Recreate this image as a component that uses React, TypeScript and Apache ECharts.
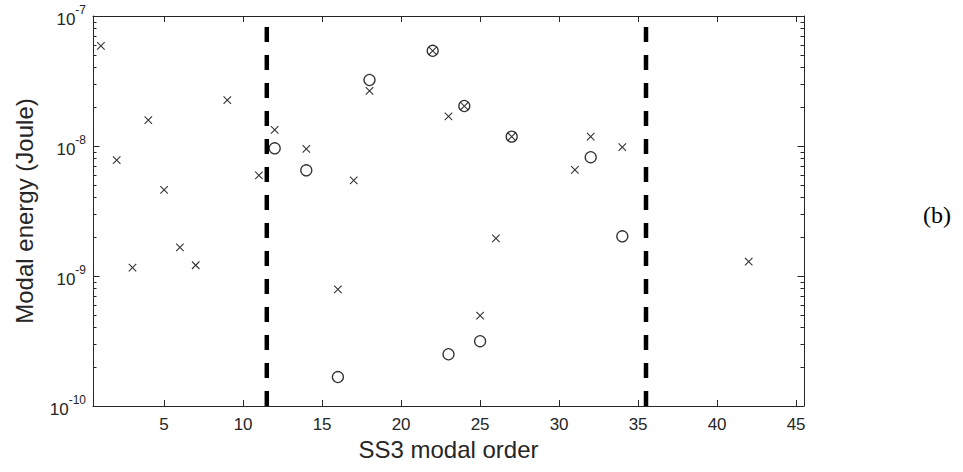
import React, { useEffect, useRef } from "react";
import * as echarts from "echarts";

// Modal order (x) and modal energy in Joule (y)
const crossX = [1, 2, 3, 4, 5, 6, 7, 9, 11, 12, 14, 16, 17, 18, 22, 23, 24, 25, 26, 27, 31, 32, 34, 42];
const crossY = [5.9e-8, 7.8e-9, 1.16e-9, 1.58e-8, 4.6e-9, 1.66e-9, 1.21e-9, 2.25e-8, 5.95e-9, 1.33e-8, 9.5e-9, 7.9e-10, 5.45e-9, 2.66e-8, 5.4e-8, 1.69e-8, 2.03e-8, 4.95e-10, 1.95e-9, 1.18e-8, 6.55e-9, 1.18e-8, 9.8e-9, 1.29e-9];
const circleX = [12, 14, 16, 18, 22, 23, 24, 25, 27, 32, 34];
const circleY = [9.6e-9, 6.5e-9, 1.67e-10, 3.22e-8, 5.4e-8, 2.5e-10, 2.03e-8, 3.15e-10, 1.18e-8, 8.2e-9, 2.02e-9];
const boundaryX = [11.5, 35.5];
const xTicks = [5, 10, 15, 20, 25, 30, 35, 40, 45];
const yMajorTicks = [1e-10, 1e-9, 1e-8, 1e-7];
const yMinorTicks = [
  2e-10, 3e-10, 4e-10, 5e-10, 6e-10, 7e-10, 8e-10, 9e-10,
  2e-9, 3e-9, 4e-9, 5e-9, 6e-9, 7e-9, 8e-9, 9e-9,
  2e-8, 3e-8, 4e-8, 5e-8, 6e-8, 7e-8, 8e-8, 9e-8,
];

const FONT = "'Liberation Sans', Arial, Helvetica, sans-serif";
const AX = "#262626";

export default function App() {
  const ref = useRef<HTMLDivElement>(null);
  useEffect(() => {
    if (!ref.current) return;
    const chart = echarts.init(ref.current, undefined, { renderer: "svg" });
    const xBase = (pos: "bottom" | "top", labels: boolean) => ({
      type: "value",
      position: pos,
      min: 0.5,
      max: 45.5,
      axisLine: { show: true, onZero: false, lineStyle: { color: AX, width: 1 } },
      axisTick: { show: true, inside: true, length: 6, customValues: xTicks, lineStyle: { color: AX } },
      axisLabel: {
        show: labels,
        customValues: xTicks,
        fontSize: 17,
        fontFamily: FONT,
        color: AX,
        margin: 10,
      },
      splitLine: { show: false },
    });
    const yBase = (pos: "left" | "right", minor: boolean, labels: boolean) => ({
      type: "log",
      logBase: 10,
      position: pos,
      min: 1e-10,
      max: 1e-7,
      axisLine: { show: !minor, onZero: false, lineStyle: { color: AX, width: 1 } },
      axisTick: {
        show: true,
        inside: true,
        length: minor ? 3.5 : 6.5,
        customValues: minor ? yMinorTicks : yMajorTicks,
        lineStyle: { color: AX },
      },
      axisLabel: labels
        ? {
            show: true,
            customValues: yMajorTicks,
            margin: 7,
            formatter: (v: number) => `{b|10}{s|${Math.round(Math.log10(v))}}`,
            rich: {
              b: { fontSize: 17, fontFamily: FONT, color: AX, lineHeight: 24, verticalAlign: "bottom" },
              s: { fontSize: 12, fontFamily: FONT, color: AX, lineHeight: 12, verticalAlign: "top" },
            },
          }
        : { show: false },
      splitLine: { show: false },
    });
    const option = {
      animation: false,
      backgroundColor: "#fff",
      grid: { left: 93, right: 159, top: 16, bottom: 66, containLabel: false },
      xAxis: [
        {
          ...xBase("bottom", true),
          name: "SS3 modal order",
          nameLocation: "middle",
          nameGap: 31,
          nameTextStyle: { fontSize: 24, fontFamily: FONT, color: AX },
        },
        xBase("top", false),
      ],
      yAxis: [
        {
          ...yBase("left", false, true),
          name: "Modal energy (Joule)",
          nameLocation: "middle",
          nameGap: 57,
          nameTextStyle: { fontSize: 24, fontFamily: FONT, color: AX },
        },
        yBase("right", false, false),
        yBase("left", true, false),
        yBase("right", true, false),
      ],
      series: [
        ...boundaryX.map((bx) => ({
          type: "line",
          xAxisIndex: 0,
          yAxisIndex: 0,
          data: [
            [bx, yMajorTicks[0]],
            [bx, yMajorTicks[yMajorTicks.length - 1]],
          ],
          showSymbol: false,
          symbol: "none",
          lineStyle: { color: "#000", width: 4.5, type: [15, 13] },
          silent: true,
          z: 1,
        })),
        {
          type: "scatter",
          xAxisIndex: 0,
          yAxisIndex: 0,
          data: crossX.map((x, i) => [x, crossY[i]]),
          symbol: "path://M0,0L10,10M10,0L0,10",
          symbolSize: 7.5,
          itemStyle: { color: "none", borderColor: "#000", borderWidth: 1.1 },
          z: 3,
        },
        {
          type: "scatter",
          xAxisIndex: 0,
          yAxisIndex: 0,
          data: circleX.map((x, i) => [x, circleY[i]]),
          symbol: "circle",
          symbolSize: 11,
          itemStyle: { color: "none", borderColor: "#000", borderWidth: 1.3 },
          z: 3,
        },
      ],
      graphic: [
        {
          type: "text",
          left: 923,
          top: 203,
          style: { text: "(b)", fontSize: 24, fontFamily: "'Liberation Serif', 'Times New Roman', serif", fill: "#000" },
        },
      ],
    };
    chart.setOption(option as any);
    return () => chart.dispose();
  }, []);
  return <div ref={ref} style={{ width: 963, height: 472, position: "absolute", left: 0, top: 0 }} />;
}
